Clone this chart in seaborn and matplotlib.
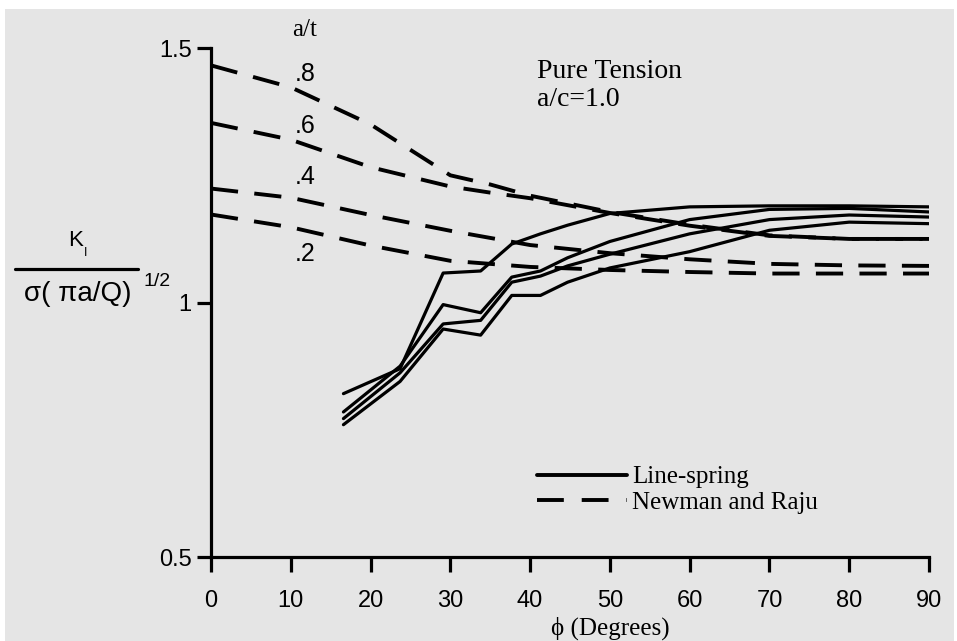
import numpy as np
import pandas as pd
import matplotlib
matplotlib.use("Agg")
import matplotlib.pyplot as plt
import seaborn as sns
from matplotlib.lines import Line2D
from matplotlib.patches import Rectangle

# Newman and Raju (dashed), phi in degrees
nr_phi = [0, 10, 20, 30, 35, 40, 50, 60, 70, 80, 90]
nr_08 = [1.466, 1.423, 1.350, 1.250, 1.232, 1.210, 1.178, 1.153, 1.132, 1.125, 1.125]
nr_06 = [1.353, 1.320, 1.266, 1.228, 1.216, 1.205, 1.176, 1.151, 1.131, 1.125, 1.125]
nr_04 = [1.224, 1.206, 1.172, 1.141, 1.127, 1.113, 1.097, 1.085, 1.076, 1.073, 1.072]
nr_02 = [1.173, 1.148, 1.112, 1.082, 1.076, 1.070, 1.064, 1.060, 1.057, 1.057, 1.057]

# Line-spring (solid)
ls_phi = [16.6, 23.7, 29.1, 33.8, 37.7, 41.3, 44.7, 50, 60, 70, 80, 90]
ls_a = [0.821, 0.870, 1.058, 1.062, 1.115, 1.135, 1.152, 1.175, 1.188, 1.190, 1.190, 1.188]
ls_b = [0.785, 0.875, 0.996, 0.980, 1.050, 1.062, 1.088, 1.120, 1.163, 1.183, 1.185, 1.178]
ls_c = [0.772, 0.862, 0.958, 0.965, 1.040, 1.052, 1.072, 1.095, 1.135, 1.163, 1.172, 1.168]
ls_d = [0.760, 0.845, 0.948, 0.936, 1.014, 1.014, 1.040, 1.068, 1.100, 1.142, 1.158, 1.155]

at_labels = [".8", ".6", ".4", ".2"]
x_ticks = [0, 10, 20, 30, 40, 50, 60, 70, 80, 90]
y_ticks = [0.5, 1.0, 1.5]
y_ticklabels = ["0.5", "1", "1.5"]

nr = pd.DataFrame({
    "phi": nr_phi * 4,
    "K": nr_08 + nr_06 + nr_04 + nr_02,
    "a_t": sum([[lab] * len(nr_phi) for lab in at_labels], []),
})
ls = pd.DataFrame({
    "phi": ls_phi * 4,
    "K": ls_a + ls_b + ls_c + ls_d,
    "curve": sum([[k] * len(ls_phi) for k in "abcd"], []),
})

sns.set_style("ticks")
plt.rcParams["font.family"] = ["Liberation Sans", "DejaVu Sans"]
plt.rcParams.update({"text.color": "black", "axes.edgecolor": "black",
                     "xtick.color": "black", "ytick.color": "black",
                     "axes.labelcolor": "black"})
serif = ["Liberation Serif", "DejaVu Serif", "DejaVu Sans"]

fig = plt.figure(figsize=(9.57, 6.41), dpi=100)
fig.patch.set_facecolor("white")
fig.patches.append(Rectangle((5 / 957, 0), 949 / 957, 632 / 641, transform=fig.transFigure,
                             facecolor="#e5e5e5", edgecolor="none", zorder=-10))
ax = fig.add_axes([211 / 957, 0.131, 718 / 957, 0.794])
ax.set_facecolor("none")

sns.lineplot(data=nr, x="phi", y="K", units="a_t", estimator=None, color="black",
             lw=2.8, linestyle=(0, (7, 4.2)), ax=ax, legend=False)
sns.lineplot(data=ls, x="phi", y="K", units="curve", estimator=None, color="black",
             lw=2.3, ax=ax, legend=False)

ax.set_xlim(0, 90)
ax.set_ylim(0.5, 1.5)
ax.set_xticks(x_ticks)
ax.set_xticklabels([str(t) for t in x_ticks])
ax.set_yticks(y_ticks)
ax.set_yticklabels(y_ticklabels)
ax.set_xlabel("")
ax.set_ylabel("")
sns.despine(ax=ax)
for s in ["left", "bottom"]:
    ax.spines[s].set_linewidth(2.3)
ax.tick_params(axis="x", length=11, width=2.3, pad=13, labelsize=17)
ax.tick_params(axis="y", length=10, width=2.3, pad=4, labelsize=17)

# curve labels
lab_y = [1.450, 1.347, 1.246, 1.095]
for lab, yy in zip(at_labels, lab_y):
    ax.text(11.8, yy, lab, ha="center", va="center", fontsize=18)
ax.text(11.7, 1.535, "a/t", ha="center", va="center", fontsize=18, family=serif, clip_on=False)
ax.text(40.9, 1.442, "Pure Tension", ha="left", va="baseline", fontsize=20, family=serif)
ax.text(40.9, 1.387, "a/c=1.0", ha="left", va="baseline", fontsize=20, family=serif)

# legend
handles = [Line2D([], [], color="black", lw=2.8),
           Line2D([], [], color="black", lw=2.8, linestyle=(0, (6.9, 4.6)))]
leg = ax.legend(handles, ["Line-spring", "Newman and Raju"], loc="upper left",
                bbox_to_anchor=(537 / 957, 1 - 466 / 641), bbox_transform=fig.transFigure,
                frameon=False, handlelength=3.6, handletextpad=0.2, labelspacing=0.1,
                borderpad=0, borderaxespad=0, prop={"family": serif, "size": 18})

# x label
fig.text(610 / 957, 1 - 617 / 641, "\u03d5 (Degrees)", ha="center", va="top",
         fontsize=18, family=serif)

# y label as a fraction
fig.text(76 / 957, 1 - 240 / 641, "K", ha="center", va="center", fontsize=16)
fig.text(86 / 957, 1 - 253 / 641, "I", ha="center", va="center", fontsize=9)
fig.add_artist(Line2D([15 / 957, 138 / 957], [1 - 269 / 641, 1 - 269 / 641],
                      transform=fig.transFigure, color="black", lw=2.3))
fig.text(78 / 957, 1 - 294 / 641, "\u03c3( \u03c0a/Q)", ha="center", va="center", fontsize=20)
fig.text(157 / 957, 1 - 282 / 641, "1/2", ha="center", va="center", fontsize=14)

fig.savefig("out.png", dpi=100)
